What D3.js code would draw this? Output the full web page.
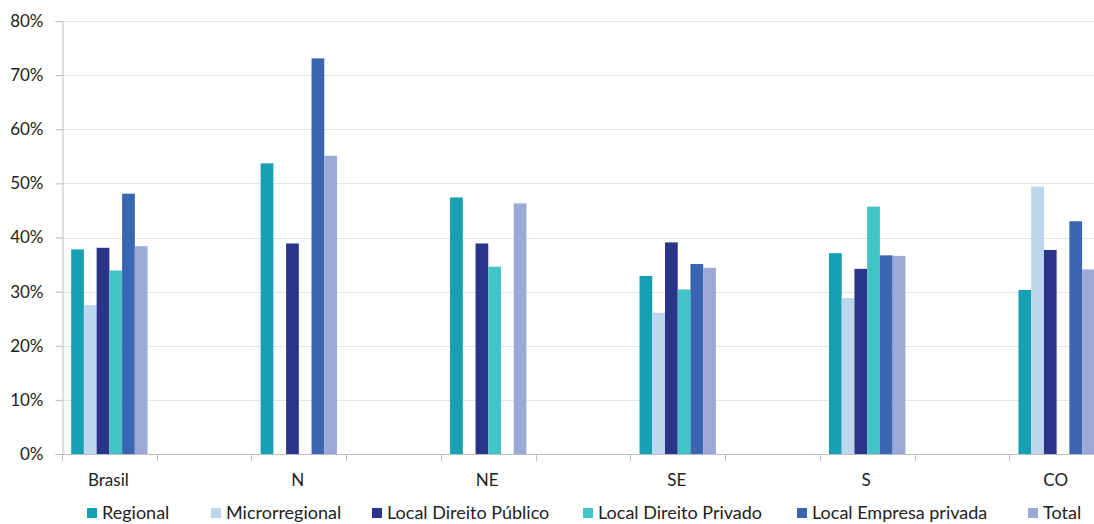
<!DOCTYPE html>
<html lang="pt">
<head>
<meta charset="utf-8">
<title>Regionalização</title>
<script src="https://d3js.org/d3.v7.min.js"></script>
<style>
  body { margin: 0; background: #fff; }
  text { font-family: Lato, "Open Sans", sans-serif; fill: #222; }
</style>
</head>
<body>
<script>
// dados
var categories = ["Brasil", "N", "NE", "SE", "S", "CO"];
var series = ["Regional", "Microrregional", "Local Direito Público", "Local Direito Privado", "Local Empresa privada", "Total"];
var colors = ["#179fb4", "#bdd6ee", "#2a3589", "#42c3c6", "#3a65b0", "#9ba9d6"];
// null = sem barra
var regional       = [37.8, 53.7, 47.4, 32.9, 37.1, 30.3];
var microrregional = [27.5, null, null, 26.1, 28.8, 49.4];
var localPublico   = [38.1, 38.9, 38.9, 39.1, 34.2, 37.7];
var localPrivado   = [33.9, null, 34.6, 30.4, 45.7, null];
var localEmpresa   = [48.1, 73.1, null, 35.1, 36.7, 43.0];
var total          = [38.4, 55.1, 46.3, 34.4, 36.6, 34.1];
var yTicks = [0, 10, 20, 30, 40, 50, 60, 70, 80];

var values = [regional, microrregional, localPublico, localPrivado, localEmpresa, total];

var W = 1094, H = 524;
var mLeft = 62, mTop = 21, mBottom = 454, mRight = 1104;

var svg = d3.select("body").append("svg")
    .attr("width", W)
    .attr("height", H);

var x = d3.scaleBand()
    .domain(categories)
    .range([mLeft, mRight])
    .paddingInner(0.5)
    .paddingOuter(0);

var xs = d3.scaleBand()
    .domain(series)
    .range([0, x.bandwidth()])
    .paddingInner(0)
    .paddingOuter(0.72);

var y = d3.scaleLinear()
    .domain([0, 80])
    .range([mBottom, mTop]);

// grade
svg.append("g")
  .selectAll("line")
  .data(yTicks.filter(d => d > 0))
  .enter().append("line")
    .attr("x1", mLeft).attr("x2", W)
    .attr("y1", d => Math.round(y(d)) + 0.5).attr("y2", d => Math.round(y(d)) + 0.5)
    .attr("stroke", "#e4e4e4")
    .attr("stroke-width", 1);

// eixo y
var yAxis = svg.append("g")
    .attr("transform", "translate(" + (mLeft + 0.5) + ",0)")
    .call(d3.axisLeft(y).tickValues(yTicks).tickFormat(d => d + "%").tickSize(7).tickPadding(12));
yAxis.select(".domain").attr("stroke", "#bdbdbd");
yAxis.selectAll(".tick line").attr("stroke", "#bdbdbd");
yAxis.selectAll("text").style("font-size", "17px").attr("fill", "#222")
    .style("font-family", "Lato, sans-serif");

// eixo x: linhas de divisao nas bordas das faixas
var edges = [];
categories.forEach(function(c) { edges.push(x(c)); edges.push(x(c) + x.bandwidth()); });
svg.append("line")
    .attr("x1", mLeft).attr("x2", W)
    .attr("y1", mBottom + 0.5).attr("y2", mBottom + 0.5)
    .attr("stroke", "#bdbdbd");
svg.append("g")
  .selectAll("line")
  .data(edges)
  .enter().append("line")
    .attr("x1", d => Math.round(d) + 0.5).attr("x2", d => Math.round(d) + 0.5)
    .attr("y1", mBottom).attr("y2", mBottom + 7)
    .attr("stroke", "#bdbdbd");

svg.append("g")
  .selectAll("text")
  .data(categories)
  .enter().append("text")
    .attr("x", d => x(d) + x.bandwidth() / 2 - 1)
    .attr("y", 486)
    .attr("text-anchor", "middle")
    .style("font-size", "17px")
    .text(d => d);

// barras
series.forEach(function(s, si) {
  var rows = categories.map((c, ci) => ({ cat: c, v: values[si][ci] }))
                       .filter(d => d.v !== null);
  svg.append("g")
    .selectAll("rect")
    .data(rows)
    .enter().append("rect")
      .attr("x", d => x(d.cat) + xs(s))
      .attr("y", d => y(d.v))
      .attr("width", xs.bandwidth())
      .attr("height", d => mBottom - y(d.v))
      .attr("fill", colors[si]);
});

// legenda
var legendX = [87, 211, 372, 583, 797, 1028];
var legend = svg.append("g")
  .selectAll("g")
  .data(series)
  .enter().append("g")
    .attr("transform", (d, i) => "translate(" + legendX[i] + ",508)");
legend.append("rect")
    .attr("width", 10).attr("height", 10)
    .attr("fill", (d, i) => colors[i]);
legend.append("text")
    .attr("x", 15).attr("y", 10.5)
    .style("font-size", "18px")
    .text(d => d);
</script>
</body>
</html>
